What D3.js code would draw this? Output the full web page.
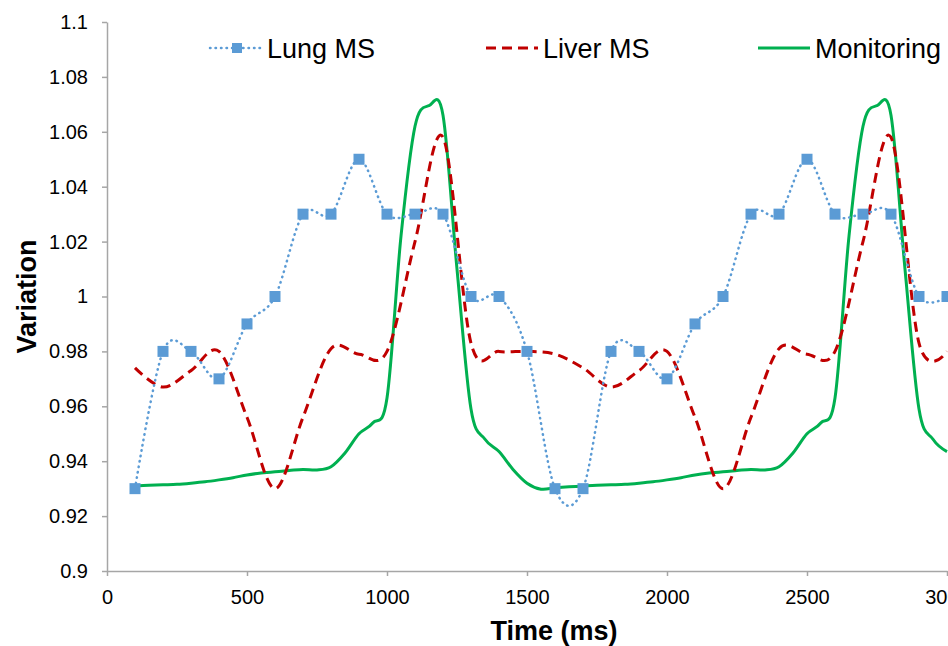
<!DOCTYPE html>
<meta charset="utf-8">
<head>
    <style>
body { margin: 0; background: #fff; }
text { font-family: "Liberation Sans", Arial, sans-serif; }
.axis path, .axis line { stroke: #a6a6a6; stroke-width: 1.5; }
.axis text { font-size: 20px; fill: #000; }
.title { font-size: 27px; font-weight: bold; }
.legend text { font-size: 27px; }
path.lung { fill: none; stroke: #5b9bd5; stroke-width: 2.5; stroke-dasharray: 0.5,5; stroke-linecap: round; }
path.liver { fill: none; stroke: #c00000; stroke-width: 3; stroke-dasharray: 10,6; }
path.monitor { fill: none; stroke: #00b050; stroke-width: 3; }
rect.marker { fill: #5b9bd5; }
    </style>
</head>
<body>
<script src="https://cdnjs.cloudflare.com/ajax/libs/d3/7.8.5/d3.min.js"></script>
<script>
//-----------------------------DATA-----------------------------//
var lungTime = [100,200,300,400,500,600,700,800,900,1000,1100,1200,1300,1400,1500,
                1600,1700,1800,1900,2000,2100,2200,2300,2400,2500,2600,2700,2800,2900,3000];
var lungMS = [0.93,0.98,0.98,0.97,0.99,1.00,1.03,1.03,1.05,1.03,1.03,1.03,1.00,1.00,0.98,
              0.93,0.93,0.98,0.98,0.97,0.99,1.00,1.03,1.03,1.05,1.03,1.03,1.03,1.00,1.00];
var liverMS = [0.974,0.967,0.973,0.980,0.956,0.930,0.956,0.981,0.979,0.980,1.020,1.058,0.983,0.980,0.980,
               0.979,0.974,0.967,0.973,0.980,0.956,0.930,0.956,0.981,0.979,0.980,1.020,1.058,0.983,0.980];
var monitorTime = [100,150,200,250,300,350,400,450,500,550,600,650,700,750,800,850,900,950,1000,
                   1050,1100,1150,1200,1250,1300,1350,1400,1450,1500,1550,1600,1650,1700,1750,1800,
                   1850,1900,1950,2000,2050,2100,2150,2200,2250,2300,2350,2400,2450,2500,2550,2600,
                   2650,2700,2750,2800,2850,2900,2950,3000];
var monitoring = [0.9310,0.9312,0.9314,0.9316,0.9320,0.9325,0.9332,0.9340,0.9350,0.9357,0.9362,
                  0.9366,0.9370,0.9368,0.9380,0.9430,0.9500,0.9540,0.9630,1.0220,1.0620,1.0695,
                  1.0660,1.0100,0.9590,0.9480,0.9435,0.9370,0.9320,0.9298,0.9303,0.9307,
                  0.9310,0.9312,0.9314,0.9316,0.9320,0.9325,0.9332,0.9340,0.9350,0.9357,0.9362,
                  0.9366,0.9370,0.9368,0.9380,0.9430,0.9500,0.9540,0.9630,1.0220,1.0620,1.0695,
                  1.0660,1.0100,0.9590,0.9480,0.9435];
var xTicks = [0,500,1000,1500,2000,2500,3000];
var yTicks = [0.9,0.92,0.94,0.96,0.98,1,1.02,1.04,1.06,1.08,1.1];
var seriesNames = ["Lung MS", "Liver MS", "Monitoring"];

//-----------------------------SVG------------------------------//
var width = 948;
var height = 646;
var margin = {top: 22, right: 1, bottom: 75, left: 107};

var svg = d3.select("body").append("svg")
    .attr("width", width)
    .attr("height", height);

//----------------------------SCALES----------------------------//
var xScale = d3.scaleLinear().domain([0, 3000]).range([margin.left, width - margin.right]);
var yScale = d3.scaleLinear().domain([0.9, 1.1]).range([height - margin.bottom, margin.top]);

//-----------------------------AXES-----------------------------//
svg.append("g")
    .attr("class", "axis")
    .attr("transform", "translate(0," + yScale(0.9) + ")")
    .call(d3.axisBottom(xScale).tickValues(xTicks).tickSize(5).tickPadding(14).tickSizeOuter(0)
        .tickFormat(function(d) { return String(d); }));

svg.append("g")
    .attr("class", "axis")
    .attr("transform", "translate(" + xScale(0) + ",0)")
    .call(d3.axisLeft(yScale).tickValues(yTicks).tickSize(5).tickPadding(14).tickSizeOuter(0)
        .tickFormat(function(d) { return String(d); }));

svg.append("text")
    .attr("class", "title")
    .attr("x", 554)
    .attr("y", 640)
    .style("text-anchor", "middle")
    .text("Time (ms)");

svg.append("text")
    .attr("class", "title")
    .attr("transform", "translate(36," + yScale(1) + ") rotate(-90)")
    .style("text-anchor", "middle")
    .text("Variation");

//----------------------------LINES-----------------------------//
var line = d3.line()
    .x(function(d) { return xScale(d[0]); })
    .y(function(d) { return yScale(d[1]); })
    .curve(d3.curveCardinal.tension(0));

svg.append("path")
    .attr("class", "monitor")
    .attr("d", line(d3.zip(monitorTime, monitoring)));

svg.append("path")
    .attr("class", "liver")
    .attr("d", line(d3.zip(lungTime, liverMS)));

svg.append("path")
    .attr("class", "lung")
    .attr("d", line(d3.zip(lungTime, lungMS)));

svg.selectAll(".marker")
    .data(d3.zip(lungTime, lungMS))
    .enter()
    .append("rect")
    .attr("class", "marker")
    .attr("x", function(d) { return xScale(d[0]) - 5.5; })
    .attr("y", function(d) { return yScale(d[1]) - 5.5; })
    .attr("width", 11)
    .attr("height", 11);

//----------------------------LEGEND----------------------------//
var legend = svg.append("g").attr("class", "legend");
var legendX = [210, 486, 758];
var legendCls = ["lung", "liver", "monitor"];
var ly = 48;

legendX.forEach(function(x0, i) {
    legend.append("path")
        .attr("class", legendCls[i])
        .attr("d", "M" + x0 + "," + ly + "H" + (x0 + 52));
    legend.append("text")
        .attr("x", x0 + 57)
        .attr("y", ly + 10)
        .text(seriesNames[i]);
});
legend.append("rect")
    .attr("class", "marker")
    .attr("x", 232)
    .attr("y", ly - 5)
    .attr("width", 10)
    .attr("height", 10);

</script>
</body>
</html>
